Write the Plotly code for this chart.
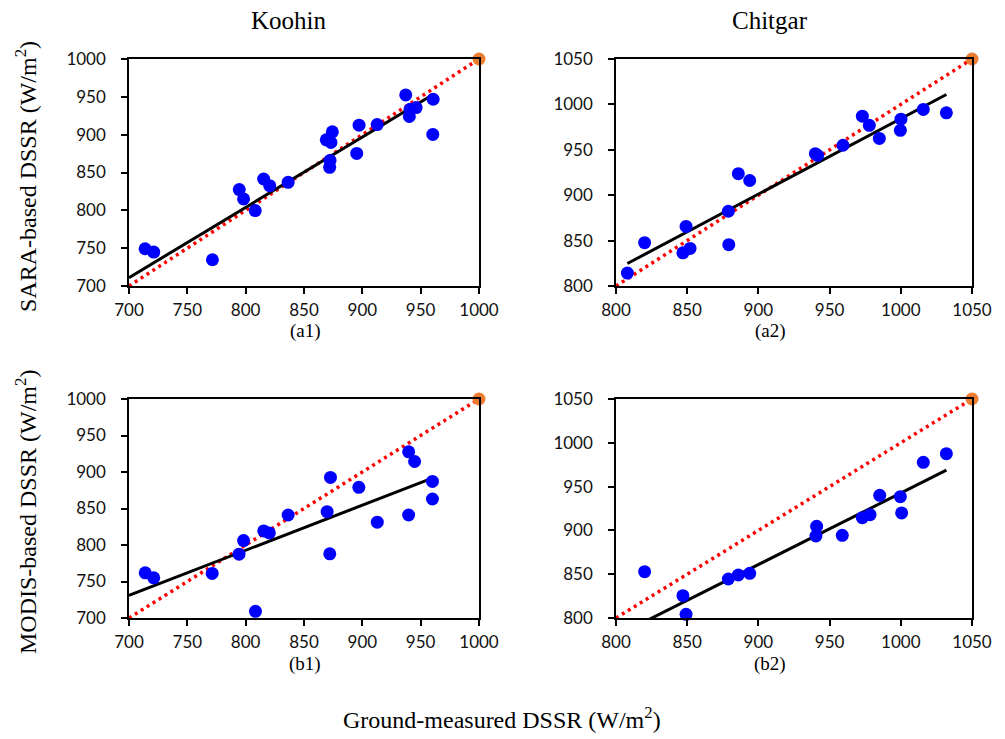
import numpy as np
import plotly.graph_objects as go

# ---------------- data ----------------
# Koohin, SARA (a1)
a1_x = [713.8, 721.2, 771.5, 794.5, 798.2, 808.2, 815.4, 820.6, 836.4, 869.1, 873.1, 874.3,
        872.3, 872.0, 895.2, 897.2, 912.7, 937.2, 940.9, 940.3, 946.1, 960.7, 960.4]
a1_y = [749.2, 744.8, 734.7, 827.4, 815.1, 799.7, 841.4, 832.6, 837.0, 893.2, 889.7, 903.8,
        866.0, 856.8, 875.2, 912.6, 913.4, 952.5, 933.6, 924.0, 935.8, 946.8, 900.3]
# Chitgar, SARA (a2)
a2_x = [808.0, 820.1, 847.0, 849.2, 852.0, 878.9, 879.2, 885.9, 893.9, 940.0, 941.6,
        959.4, 973.0, 977.9, 984.9, 1000.1, 999.7, 1015.8, 1032.0]
a2_y = [814.2, 847.7, 836.5, 865.6, 841.4, 882.3, 845.5, 923.7, 916.2, 945.7, 943.8,
        955.0, 987.0, 977.0, 962.5, 983.7, 971.4, 994.5, 990.7]
# Koohin, MODIS (b1)
b1_x = [713.9, 721.2, 771.3, 794.3, 798.2, 808.4, 815.5, 820.3, 836.4, 869.8, 872.7, 872.1,
        897.0, 912.8, 939.7, 944.8, 939.7, 960.1, 960.1]
b1_y = [761.9, 755.1, 761.0, 787.4, 806.1, 709.1, 819.3, 816.6, 841.1, 845.7, 892.6, 787.9,
        879.0, 831.2, 927.6, 914.4, 841.1, 887.1, 863.0]
# Chitgar, MODIS (b2)
b2_x = [820.1, 847.0, 849.2, 878.9, 885.9, 893.9, 940.4, 940.9, 958.9, 973.0, 978.4,
        985.2, 999.7, 1000.6, 1015.8, 1032.0]
b2_y = [852.9, 825.5, 804.2, 844.5, 849.1, 851.0, 893.6, 904.6, 894.4, 914.5, 918.0,
        940.0, 938.5, 919.9, 977.7, 987.6]

# linear trend lines (slope, intercept, x range)
trend_slope = [0.929, 0.831, 0.6175, 0.816]
trend_intercept = [60.7, 153.3, 298.8, 126.6]
trend_x_start = [700, 808, 700, 808]
trend_x_end = [961, 1032, 960, 1032]

# axis ranges per site
koohin_range = [700, 1000]
chitgar_range = [800, 1050]
tick_step = 50

site_titles = ["Koohin", "Chitgar"]
panel_labels = ["(a1)", "(a2)", "(b1)", "(b2)"]
y_titles = ["SARA-based DSSR (W/m<sup>2</sup>)", "MODIS-based DSSR (W/m<sup>2</sup>)"]
x_title = "Ground-measured DSSR (W/m<sup>2</sup>)"

# ---------------- figure ----------------
W, H = 1005, 739
OFF = 8  # page body margin offsets the figure by 8 px
serif = "Liberation Serif, Times New Roman, serif"
sans = "Lato, Carlito, sans-serif"


def fx(px):
    return (px - OFF) / W


def fy(py):
    return 1 - (py - OFF) / H


col_dom = [[fx(129), fx(479)], [fx(616), fx(972)]]
row_dom = [[fy(286), fy(59)], [fy(618), fy(399)]]

panels = [
    (a1_x, a1_y, koohin_range, 0, 0),
    (a2_x, a2_y, chitgar_range, 0, 1),
    (b1_x, b1_y, koohin_range, 1, 0),
    (b2_x, b2_y, chitgar_range, 1, 1),
]

fig = go.Figure()
layout = {}
for i, (xs, ys, rng, r, c) in enumerate(panels):
    k = "" if i == 0 else str(i + 1)
    xa, ya = "x" + k, "y" + k
    # 1:1 line
    fig.add_trace(go.Scatter(x=rng, y=rng, mode="lines", xaxis=xa, yaxis=ya,
                             line=dict(color="#FF0000", width=3.5, dash="3px,4px"),
                             showlegend=False, hoverinfo="skip"))
    # trend line
    tx = [trend_x_start[i], trend_x_end[i]]
    ty = [trend_slope[i] * v + trend_intercept[i] for v in tx]
    fig.add_trace(go.Scatter(x=tx, y=ty, mode="lines", xaxis=xa, yaxis=ya,
                             line=dict(color="black", width=3),
                             showlegend=False, hoverinfo="skip"))
    # observations
    fig.add_trace(go.Scatter(x=xs, y=ys, mode="markers", xaxis=xa, yaxis=ya,
                             marker=dict(color="#0000FF", size=13, line=dict(width=0)),
                             showlegend=False, cliponaxis=False))
    # end point of 1:1 line
    fig.add_trace(go.Scatter(x=[rng[1]], y=[rng[1]], mode="markers", xaxis=xa, yaxis=ya,
                             marker=dict(color="#ED7D31", size=13, line=dict(width=0)),
                             showlegend=False, cliponaxis=False))
    ticks = list(range(rng[0], rng[1] + 1, tick_step))
    common = dict(range=rng, tickvals=ticks, ticktext=[str(t) for t in ticks],
                  showgrid=False, zeroline=False, showline=True, linecolor="black",
                  linewidth=1.5, mirror=True, ticks="outside", ticklen=6, tickwidth=1.5,
                  tickcolor="black", automargin=False,
                  tickfont=dict(family=sans, size=17, color="#111"))
    layout["xaxis" + k] = dict(common, domain=col_dom[c], anchor=ya, ticklabelstandoff=2)
    layout["yaxis" + k] = dict(common, domain=row_dom[r], anchor=xa, ticklabelstandoff=12)

fig.update_layout(**layout)

ann = []
title_x = [289, 770]
for c in range(2):
    ann.append(dict(text=site_titles[c], x=fx(title_x[c]), y=fy(21), xref="paper", yref="paper",
                    showarrow=False, xanchor="center", yanchor="middle",
                    font=dict(family=serif, size=25, color="black")))
label_pos = [(305, 331), (770, 331), (305, 664), (770, 664)]
for i, (px, py) in enumerate(label_pos):
    ann.append(dict(text=panel_labels[i], x=fx(px), y=fy(py), xref="paper", yref="paper",
                    showarrow=False, xanchor="center", yanchor="middle",
                    font=dict(family=serif, size=19, color="black")))
y_title_pos = [177, 512]
for r in range(2):
    ann.append(dict(text=y_titles[r], x=fx(26), y=fy(y_title_pos[r]), xref="paper", yref="paper",
                    showarrow=False, xanchor="center", yanchor="middle", textangle=-90,
                    font=dict(family=serif, size=24, color="black")))
ann.append(dict(text=x_title, x=fx(502), y=fy(718), xref="paper", yref="paper",
                showarrow=False, xanchor="center", yanchor="middle",
                font=dict(family=serif, size=24, color="black")))

fig.update_layout(width=W, height=H,
                  margin=dict(l=0, r=0, t=0, b=0, pad=0, autoexpand=False),
                  paper_bgcolor="white", plot_bgcolor="white", annotations=ann)

fig.write_html("out.html")
